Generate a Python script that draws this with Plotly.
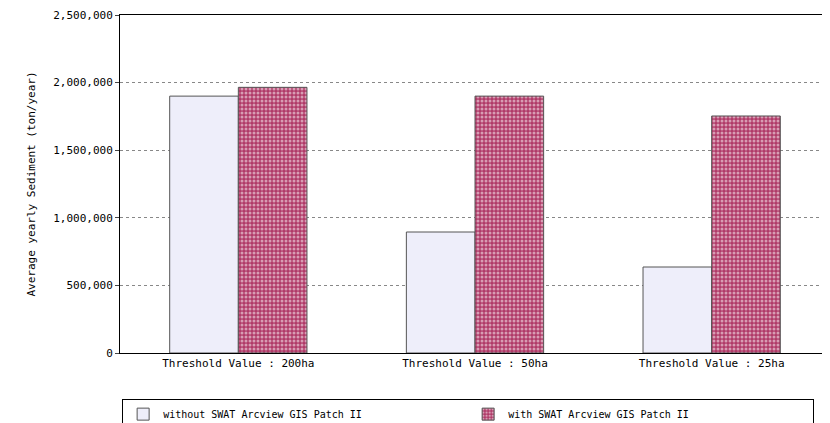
import plotly.graph_objects as go

categories = ["Threshold Value : 200ha", "Threshold Value : 50ha", "Threshold Value : 25ha"]
without_patch = [1900000, 895000, 636000]
with_patch = [1965000, 1900000, 1753000]

fig = go.Figure()
fig.add_bar(x=categories, y=without_patch, name="without SWAT Arcview GIS Patch II",
            marker=dict(color="#eeeefa", line=dict(color="#555555", width=1)))
fig.add_bar(x=categories, y=with_patch, name="with SWAT Arcview GIS Patch II",
            marker=dict(color="#b03a68", line=dict(color="#555555", width=1),
                        pattern=dict(shape=".", fgcolor="white", bgcolor="#b03a68", size=4, solidity=0.45)))
fig.update_layout(
    width=822, height=415, paper_bgcolor="white", plot_bgcolor="white",
    margin=dict(l=112, r=0, t=7, b=70, autoexpand=False),
    barmode="group", bargap=0.42, bargroupgap=0,
    font=dict(family="DejaVu Sans Mono", size=11, color="black"),
    showlegend=True,
    legend=dict(orientation="h", x=0.003, y=-0.135, xanchor="left", yanchor="top",
                bordercolor="black", borderwidth=1, entrywidth=300, entrywidthmode="pixels",
                itemwidth=30, font=dict(size=10)),
)
fig.update_xaxes(showline=True, linecolor="black", mirror=True, ticks="", tickfont=dict(size=11))
fig.update_yaxes(range=[0, 2500000], dtick=500000, tickformat=",", showline=True, linecolor="black",
                 mirror=True, ticks="outside", ticklen=4, showgrid=True, gridcolor="#888888", griddash="dot",
                 title=dict(text="Average yearly Sediment (ton/year)", font=dict(size=11)))
fig.write_html("out.html")
